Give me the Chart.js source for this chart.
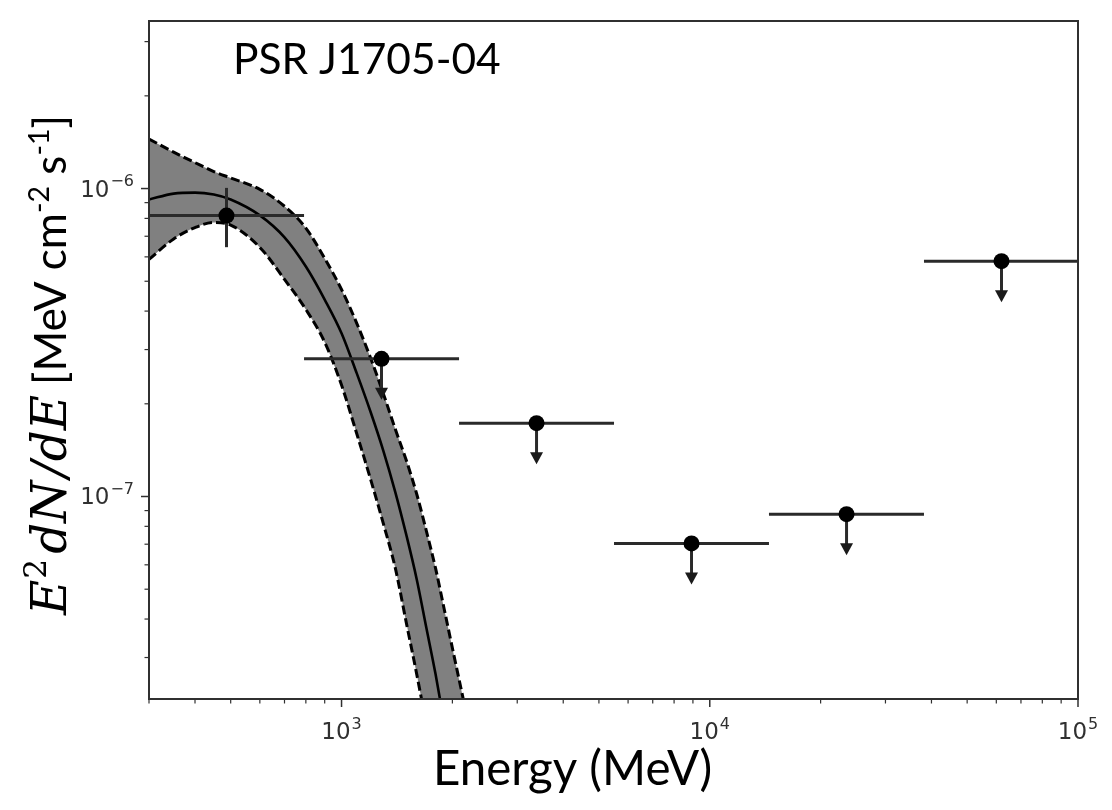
<!DOCTYPE html>
<html>
<head>
<meta charset="utf-8">
<script src="https://cdn.jsdelivr.net/npm/chart.js@4.4.1/dist/chart.umd.min.js"></script>
<style>
html,body{margin:0;padding:0;background:#ffffff;}
#wrap{position:relative;width:1112px;height:810px;}
</style>
</head>
<body>
<div id="wrap"><canvas id="c"></canvas></div>
<script>
// ---------------- data ----------------
const energyGrid = [300,350,400,450,500,600,700,800,900,1000,1100,1200,1300,1400,1500,1600,1700,1800,1900,2000,2200,2400];
const modelFlux  = [9.21e-7,9.63e-7,9.70e-7,9.56e-7,9.21e-7,8.18e-7,6.94e-7,5.58e-7,4.36e-7,3.39e-7,2.51e-7,1.877e-7,1.402e-7,1.032e-7,7.49e-8,5.39e-8,3.74e-8,2.65e-8,1.84e-8,1.30e-8,6.6e-9,3.4e-9];
const bandUpper  = [1.449e-6,1.313e-6,1.214e-6,1.135e-6,1.082e-6,9.94e-7,8.76e-7,7.44e-7,5.93e-7,4.70e-7,3.65e-7,2.81e-7,2.15e-7,1.653e-7,1.308e-7,1.019e-7,7.72e-8,5.85e-8,4.31e-8,3.22e-8,1.88e-8,1.12e-8];
const bandLower  = [5.89e-7,6.86e-7,7.47e-7,7.76e-7,7.61e-7,6.44e-7,5.07e-7,4.05e-7,3.17e-7,2.30e-7,1.598e-7,1.134e-7,8.13e-8,5.85e-8,3.88e-8,2.65e-8,1.81e-8,1.25e-8,8.46e-9,5.74e-9,2.7e-9,1.29e-9];

const binCenter    = [487, 1284, 3385, 8922, 23520, 61980];
const binLow       = [300, 791, 2085, 5495, 14480, 38170];
const binHigh      = [791, 2085, 5495, 14480, 38170, 100000];
const pointFlux    = [8.17e-7, 2.80e-7, 1.73e-7, 7.04e-8, 8.76e-8, 5.81e-7];
const pointErrLow  = [6.45e-7, null, null, null, null, null];
const pointErrHigh = [1.005e-6, null, null, null, null, null];
const isUpperLimit = [false, true, true, true, true, true];

const xRange = [300, 1e5];
const yRange = [2.2e-8, 3.5e-6];
const xMajorTicks = [1e3, 1e4, 1e5];
const xTickExponents = ['3', '4', '5'];
const yMajorTicks = [1e-7, 1e-6];
const yTickExponents = ['\u22127', '\u22126'];

const sourceLabel = 'PSR J1705-04';
const xTitle = 'Energy (MeV)';

// ---------------- styling ----------------
const AX = '#303030';
const SANS = 'Lato';
const TICKFONT = '"DejaVu Sans"';

function minorTicks(lo, hi){
  const out=[];
  for(let d=Math.floor(Math.log10(lo)); d<=Math.ceil(Math.log10(hi)); d++){
    for(let m=2;m<=9;m++){
      const v=m*Math.pow(10,d);
      if(v>=lo*0.999 && v<=hi*1.001) out.push(v);
    }
  }
  return out;
}

function pts(xs, ys){ return xs.map((e,i)=>({x:e, y:ys[i]})); }

const errorBarPlugin = {
  id:'errbars',
  beforeDatasetDraw(chart, args){
    if(args.index!==0) return;
    const {ctx, chartArea:a, scales:{x,y}} = chart;
    ctx.save();
    ctx.beginPath(); ctx.rect(a.left,a.top,a.right-a.left,a.bottom-a.top); ctx.clip();
    ctx.strokeStyle='#2a2a2a'; ctx.fillStyle='#1a1a1a'; ctx.lineWidth=3;
    const ARROW_LEN=41, HEAD_LEN=12, HEAD_W=13;
    for(let i=0;i<binCenter.length;i++){
      const px=x.getPixelForValue(binCenter[i]);
      const py=y.getPixelForValue(pointFlux[i]);
      ctx.beginPath();
      ctx.moveTo(x.getPixelForValue(binLow[i]), py);
      ctx.lineTo(x.getPixelForValue(binHigh[i]), py);
      ctx.stroke();
      if(isUpperLimit[i]){
        const tip=py+ARROW_LEN;
        ctx.beginPath(); ctx.moveTo(px,py); ctx.lineTo(px,tip-HEAD_LEN+1); ctx.stroke();
        ctx.beginPath();
        ctx.moveTo(px-HEAD_W/2, tip-HEAD_LEN);
        ctx.lineTo(px+HEAD_W/2, tip-HEAD_LEN);
        ctx.lineTo(px, tip);
        ctx.closePath(); ctx.fill();
      } else {
        ctx.beginPath();
        ctx.moveTo(px, y.getPixelForValue(pointErrLow[i]));
        ctx.lineTo(px, y.getPixelForValue(pointErrHigh[i]));
        ctx.stroke();
      }
    }
    ctx.restore();
  }
};

function drawPow(ctx, exp, x, y, align, mainPx, supPx, rise){
  ctx.font = mainPx+'px '+TICKFONT;
  const w1 = ctx.measureText('10').width;
  ctx.font = supPx+'px '+TICKFONT;
  const w2 = ctx.measureText(exp).width;
  const tot = w1+w2+1;
  let x0 = align==='center' ? x-tot/2 : x-tot;
  ctx.textAlign='left'; ctx.textBaseline='alphabetic';
  ctx.font = mainPx+'px '+TICKFONT;
  ctx.fillText('10', x0, y);
  ctx.font = supPx+'px '+TICKFONT;
  ctx.fillText(exp, x0+w1+1, y-rise);
}

function drawSegments(ctx, segs, x, y){
  let cx=x;
  for(const s of segs){
    ctx.font=s.font;
    ctx.fillText(s.t, cx, y-(s.rise||0));
    cx+=ctx.measureText(s.t).width+(s.gap||0);
  }
  return cx-x;
}
function segWidth(ctx, segs){
  let w=0;
  for(const s of segs){ ctx.font=s.font; w+=ctx.measureText(s.t).width+(s.gap||0); }
  return w;
}

const decorPlugin = {
  id:'decor',
  afterDraw(chart){
    const {ctx, chartArea:a, scales:{x,y}} = chart;
    ctx.save();
    // frame
    ctx.strokeStyle=AX; ctx.lineWidth=2;
    ctx.strokeRect(a.left, a.top, a.right-a.left, a.bottom-a.top);
    // ticks
    ctx.lineWidth=1.5;
    const tick=(x1,y1,x2,y2)=>{ctx.beginPath();ctx.moveTo(x1,y1);ctx.lineTo(x2,y2);ctx.stroke();};
    for(const v of xMajorTicks){ const p=x.getPixelForValue(v); tick(p,a.bottom,p,a.bottom+8); }
    ctx.lineWidth=1.2;
    for(const v of minorTicks(xRange[0], xRange[1])){ if(xMajorTicks.includes(v)) continue; const p=x.getPixelForValue(v); tick(p,a.bottom,p,a.bottom+4.5); }
    ctx.lineWidth=1.5;
    for(const v of yMajorTicks){ const p=y.getPixelForValue(v); tick(a.left-8,p,a.left,p); }
    ctx.lineWidth=1.2;
    for(const v of minorTicks(yRange[0], yRange[1])){ const p=y.getPixelForValue(v); tick(a.left-4.5,p,a.left,p); }
    // tick labels
    ctx.fillStyle=AX;
    xMajorTicks.forEach((v,i)=>{ drawPow(ctx, xTickExponents[i], x.getPixelForValue(v), a.bottom+40, 'center', 23, 16, 10.5); });
    yMajorTicks.forEach((v,i)=>{ drawPow(ctx, yTickExponents[i], a.left-15, y.getPixelForValue(v)+8, 'right', 23, 16, 10.5); });

    // source label
    ctx.fillStyle='#000';
    ctx.textBaseline='alphabetic'; ctx.textAlign='left';
    let fs=48; ctx.font=fs+'px '+SANS;
    fs = fs*268/ctx.measureText(sourceLabel).width;
    ctx.font=fs.toFixed(1)+'px '+SANS;
    ctx.fillText(sourceLabel, 233, 73.5);

    // x title
    fs=48; ctx.font=fs+'px '+SANS;
    fs = fs*279/ctx.measureText(xTitle).width;
    ctx.font=fs.toFixed(1)+'px '+SANS;
    ctx.textAlign='center';
    ctx.fillText(xTitle, 572.5, 785);

    // y title (rotated, mixed fonts)
    ctx.textAlign='left';
    const mathSegs=(k)=>[
      {t:'E', font:'italic '+(48*k)+'px "DejaVu Serif"', gap:1*k},
      {t:'2', font:(31*k)+'px "DejaVu Serif"', rise:20*k, gap:5*k},
      {t:'dN', font:'italic '+(48*k)+'px "DejaVu Serif"', gap:3*k},
      {t:'/', font:'italic '+(48*k)+'px "DejaVu Serif"'},
      {t:'dE', font:'italic '+(48*k)+'px "DejaVu Serif"'}
    ];
    const textSegs=(k)=>[
      {t:'[MeV cm', font:(48*k)+'px '+SANS},
      {t:'-2', font:(31*k)+'px '+SANS, rise:18*k},
      {t:' s', font:(48*k)+'px '+SANS},
      {t:'-1', font:(31*k)+'px '+SANS, rise:18*k},
      {t:']', font:(48*k)+'px '+SANS}
    ];
    const km = 220/segWidth(ctx, mathSegs(1));
    const kt = 270/segWidth(ctx, textSegs(1));
    ctx.translate(66, 615);
    ctx.rotate(-Math.PI/2);
    drawSegments(ctx, mathSegs(km), 0, 0);
    drawSegments(ctx, textSegs(kt), 230, 0);
    ctx.restore();
  }
};

function build(){
  new Chart(document.getElementById('c'), {
    type:'scatter',
    data:{
      datasets:[
        { label:'points', data:pts(binCenter, pointFlux), pointRadius:8, pointHoverRadius:8,
          pointBackgroundColor:'#000', pointBorderColor:'#000', pointBorderWidth:0, showLine:false },
        { label:'model', data:pts(energyGrid, modelFlux), showLine:true, pointRadius:0,
          borderColor:'#000', borderWidth:2.6, cubicInterpolationMode:'monotone', fill:false },
        { label:'upper', data:pts(energyGrid, bandUpper), showLine:true, pointRadius:0,
          borderColor:'#000', borderWidth:3, borderDash:[9,4], cubicInterpolationMode:'monotone',
          fill:'+1', backgroundColor:'#808080' },
        { label:'lower', data:pts(energyGrid, bandLower), showLine:true, pointRadius:0,
          borderColor:'#000', borderWidth:3, borderDash:[9,4], cubicInterpolationMode:'monotone', fill:false }
      ]
    },
    options:{
      responsive:true, maintainAspectRatio:false, animation:false,
      layout:{padding:{left:0, top:21, right:34, bottom:0}},
      plugins:{ legend:{display:false}, tooltip:{enabled:false}, filler:{drawTime:'beforeDatasetsDraw'} },
      scales:{
        x:{ type:'logarithmic', min:xRange[0], max:xRange[1],
            ticks:{display:false}, grid:{display:false}, border:{display:false},
            afterFit(s){ s.height=111; } },
        y:{ type:'logarithmic', min:yRange[0], max:yRange[1],
            ticks:{display:false}, grid:{display:false}, border:{display:false},
            afterFit(s){ s.width=149; } }
      }
    },
    plugins:[errorBarPlugin, decorPlugin]
  });
}

const fontsToLoad = ['48px Lato','italic 48px "DejaVu Serif"','48px "DejaVu Serif"','23px "DejaVu Sans"'];
let built=false;
function go(){ if(built) return; built=true; build(); }
if(document.fonts && document.fonts.load){
  Promise.all(fontsToLoad.map(f=>document.fonts.load(f))).then(go, go);
  setTimeout(go, 1500);
} else { go(); }
</script>
</body>
</html>
